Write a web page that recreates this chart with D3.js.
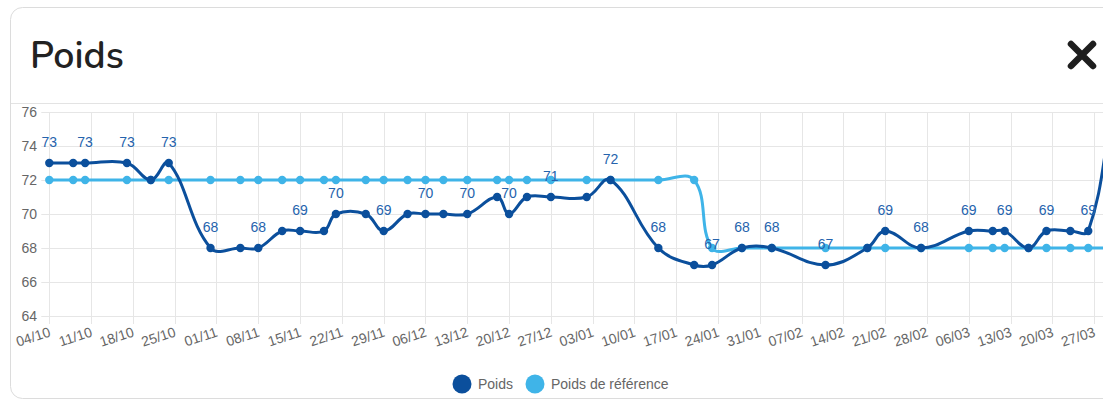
<!DOCTYPE html>
<html>
<head>
<meta charset="utf-8">
<script src="https://cdn.jsdelivr.net/npm/d3@7"></script>
<style>
  html, body { margin: 0; padding: 0; background: #fff; overflow: hidden; }
  svg { display: block; }
</style>
</head>
<body>
<div id="chart"></div>
<script>
// weigh-in dates (2023-2024 season)
const dates = [
  "2023-10-04", "2023-10-08", "2023-10-10", "2023-10-17", "2023-10-21", "2023-10-24",
  "2023-10-31", "2023-11-05", "2023-11-08", "2023-11-12", "2023-11-15", "2023-11-19",
  "2023-11-21", "2023-11-26", "2023-11-29", "2023-12-03", "2023-12-06", "2023-12-09",
  "2023-12-13", "2023-12-18", "2023-12-20", "2023-12-23", "2023-12-27", "2024-01-02",
  "2024-01-06", "2024-01-14", "2024-01-20", "2024-01-23", "2024-01-28", "2024-02-02",
  "2024-02-11", "2024-02-18", "2024-02-21", "2024-02-27", "2024-03-06", "2024-03-10",
  "2024-03-12", "2024-03-16", "2024-03-19", "2024-03-23", "2024-03-26", "2024-03-30"
];
const poids = [
  73, 73, 73, 73, 72, 73,
  68, 68, 68, 69, 69, 69,
  70, 70, 69, 70, 70, 70,
  70, 71, 70, 71, 71, 71,
  72, 68, 67, 67, 68, 68,
  67, 68, 69, 68, 69, 69,
  69, 68, 69, 69, 69, 76
];
const reference = [
  72, 72, 72, 72, 72, 72,
  72, 72, 72, 72, 72, 72,
  72, 72, 72, 72, 72, 72,
  72, 72, 72, 72, 72, 72,
  72, 72, 72, 68, 68, 68,
  68, 68, 68, 68, 68, 68,
  68, 68, 68, 68, 68, 68
];
// labels that survive the overlap check of the original chart
const shownLabels = [
  "2023-10-04", "2023-10-10", "2023-10-17", "2023-10-24", "2023-10-31", "2023-11-08",
  "2023-11-15", "2023-11-21", "2023-11-29", "2023-12-06", "2023-12-13", "2023-12-20",
  "2023-12-27", "2024-01-06", "2024-01-14", "2024-01-23", "2024-01-28", "2024-02-02",
  "2024-02-11", "2024-02-21", "2024-02-27", "2024-03-06", "2024-03-12", "2024-03-19",
  "2024-03-26"
];
const yTicks = [64, 66, 68, 70, 72, 74, 76];
const seriesNames = ["Poids", "Poids de référence"];

const darkBlue = "#0b4f9c";
const lightBlue = "#3fb4e8";
const labelBlue = "#2563ad";

const width = 1103, height = 401;
const area = { left: 49.3, top: 112, bottom: 316 };
const pxPerDay = 5.971;

const parse = d3.utcParse("%Y-%m-%d");
const x0 = parse(dates[0]), x1 = parse(dates[dates.length - 1]);
area.right = area.left + pxPerDay * d3.utcDay.count(x0, x1);

const x = d3.scaleUtc().domain([x0, x1]).range([area.left, area.right]);
const y = d3.scaleLinear().domain([64, 76]).range([area.bottom, area.top]);

const svg = d3.select("#chart").append("svg")
  .attr("width", width)
  .attr("height", height)
  .style("font-family", "'Liberation Sans', Arial, sans-serif");

// card
svg.append("rect")
  .attr("x", 10.5).attr("y", 7.5)
  .attr("width", 1300).attr("height", 391)
  .attr("rx", 12)
  .attr("fill", "#fff")
  .attr("stroke", "#dcdcdc");

svg.append("line")
  .attr("x1", 11).attr("x2", width)
  .attr("y1", 103.5).attr("y2", 103.5)
  .attr("stroke", "#e3e3e3");

svg.append("text")
  .attr("x", 30).attr("y", 68)
  .attr("font-family", "Nunito, Lato, sans-serif")
  .attr("font-weight", 600)
  .attr("font-size", 37.5)
  .attr("fill", "#222")
  .text("Poids");

// close icon
svg.append("path")
  .attr("d", "M1071,44L1093,66M1093,44L1071,66")
  .attr("stroke", "#1e1e1e")
  .attr("stroke-width", 6.5)
  .attr("stroke-linecap", "round");

// grid
const weekTicks = d3.utcWednesday.range(x0, d3.utcDay.offset(x1, 1));

svg.append("g")
  .selectAll("line")
  .data(yTicks)
  .join("line")
  .attr("x1", area.left - 8).attr("x2", width)
  .attr("y1", d => Math.round(y(d)) + 0.5).attr("y2", d => Math.round(y(d)) + 0.5)
  .attr("stroke", "#e6e6e6");

svg.append("g")
  .selectAll("line")
  .data(weekTicks)
  .join("line")
  .attr("x1", d => Math.round(x(d)) + 0.5).attr("x2", d => Math.round(x(d)) + 0.5)
  .attr("y1", area.top).attr("y2", area.bottom + 8)
  .attr("stroke", "#e6e6e6");

// y labels
svg.append("g")
  .selectAll("text")
  .data(yTicks)
  .join("text")
  .attr("x", 37)
  .attr("y", d => y(d))
  .attr("dy", "0.36em")
  .attr("text-anchor", "end")
  .attr("font-size", 14)
  .attr("fill", "#666")
  .text(d => d);

// x labels, slanted
const fmt = d3.utcFormat("%d/%m");
svg.append("g")
  .selectAll("text")
  .data(weekTicks)
  .join("text")
  .attr("transform", d => `translate(${x(d) + 2},${area.bottom + 20}) rotate(-18)`)
  .attr("text-anchor", "end")
  .attr("font-size", 14)
  .attr("fill", "#666")
  .text(d => fmt(d));

// Chart.js-like spline (tension 0.4, control points capped to the chart area)
function spline(pts, t) {
  const cps = pts.map((p, i) => {
    const prev = pts[i - 1] || p, next = pts[i + 1] || p;
    const d01 = Math.hypot(p[0] - prev[0], p[1] - prev[1]);
    const d12 = Math.hypot(next[0] - p[0], next[1] - p[1]);
    let s01 = d01 / (d01 + d12), s12 = d12 / (d01 + d12);
    if (isNaN(s01)) s01 = 0;
    if (isNaN(s12)) s12 = 0;
    const fa = t * s01, fb = t * s12;
    const cap = c => [Math.max(area.left, Math.min(area.right, c[0])),
                      Math.max(area.top, Math.min(area.bottom, c[1]))];
    return {
      before: cap([p[0] - fa * (next[0] - prev[0]), p[1] - fa * (next[1] - prev[1])]),
      after: cap([p[0] + fb * (next[0] - prev[0]), p[1] + fb * (next[1] - prev[1])])
    };
  });
  const path = d3.path();
  path.moveTo(pts[0][0], pts[0][1]);
  for (let i = 1; i < pts.length; i++) {
    path.bezierCurveTo(cps[i - 1].after[0], cps[i - 1].after[1],
                       cps[i].before[0], cps[i].before[1],
                       pts[i][0], pts[i][1]);
  }
  return path.toString();
}

const series = [
  { values: reference, color: lightBlue },
  { values: poids, color: darkBlue }
];

series.forEach(s => {
  const pts = dates.map((d, i) => [x(parse(d)), y(s.values[i])]);
  svg.append("path")
    .attr("d", spline(pts, 0.4))
    .attr("fill", "none")
    .attr("stroke", s.color)
    .attr("stroke-width", 3);
  svg.append("g")
    .selectAll("circle")
    .data(pts)
    .join("circle")
    .attr("cx", p => p[0])
    .attr("cy", p => p[1])
    .attr("r", 4.2)
    .attr("fill", s.color);
});

// value labels
svg.append("g")
  .selectAll("text")
  .data(dates.map((d, i) => ({ d, v: poids[i] })).filter(o => shownLabels.includes(o.d)))
  .join("text")
  .attr("x", o => x(parse(o.d)))
  .attr("y", o => y(o.v) - 21)
  .attr("dy", "0.36em")
  .attr("text-anchor", "middle")
  .attr("font-size", 14)
  .attr("fill", labelBlue)
  .text(o => o.v);

// legend
const legend = svg.append("g")
  .selectAll("g")
  .data(seriesNames)
  .join("g")
  .attr("transform", (d, i) => `translate(${[462, 535][i]},384)`);

legend.append("circle")
  .attr("r", 9.5)
  .attr("fill", (d, i) => [darkBlue, lightBlue][i]);

legend.append("text")
  .attr("x", 16)
  .attr("dy", "0.36em")
  .attr("font-size", 14)
  .attr("fill", "#666")
  .text(d => d);
</script>
</body>
</html>
